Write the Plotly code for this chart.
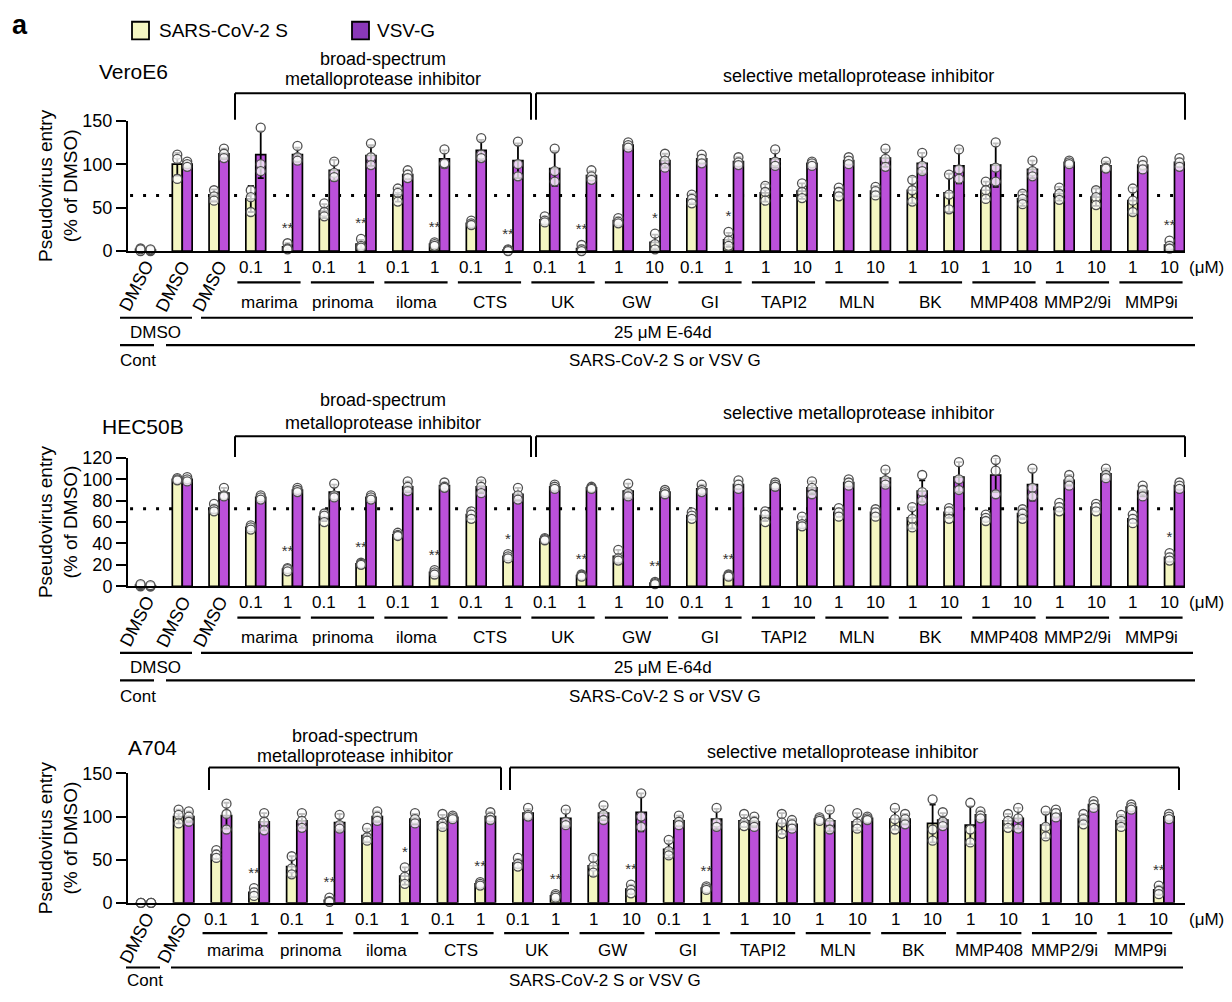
import plotly.graph_objects as go

# ---------------- data ----------------
inhibitors = ['marima', 'prinoma', 'iloma', 'CTS', 'UK', 'GW', 'GI', 'TAPI2', 'MLN', 'BK',
              'MMP408', 'MMP2/9i', 'MMP9i']
conc_low = ['0.1', '0.1', '0.1', '0.1', '0.1', '1', '0.1', '1', '1', '1', '1', '1', '1']
conc_high = ['1', '1', '1', '1', '1', '10', '1', '10', '10', '10', '10', '10', '10']

# ---- VeroE6 (29 groups: DMSO cont, DMSO, DMSO+E-64d, 13 inhibitors x 2) ----
vero_s_mean = [2, 100, 64, 60, 5, 46, 8, 65, 8, 32, 1, 36, 3, 35, 10, 60, 13, 67, 69, 68, 69, 70, 67, 70, 60, 66, 62, 58, 7]
vero_s_sd = [2, 13, 7, 15, 4, 8, 5, 8, 2, 3, 1, 4, 4, 4, 9, 6, 8, 10, 9, 5, 6, 15, 22, 10, 8, 8, 10, 15, 4]
vero_g_mean = [1, 100, 112, 111, 111, 93, 110, 88, 106, 116, 104, 95, 87, 122, 104, 106, 103, 106, 101, 104, 107, 101, 98, 99, 94, 102, 98, 99, 102]
vero_g_sd = [1, 3, 6, 27, 8, 12, 12, 5, 10, 12, 20, 20, 5, 3, 8, 5, 5, 10, 3, 4, 10, 12, 20, 25, 10, 3, 5, 5, 5]
vero_s_pts = [[0, 3, 2], [111, 106, 83], [70, 63, 58], [70, 62, 45], [9, 3, 2], [55, 45, 40], [14, 6, 4],
              [72, 67, 57], [10, 8, 6], [35, 32, 30], [2, 1, 0], [40, 35, 33], [7, 2, 0], [38, 34, 32],
              [20, 8, 2], [65, 60, 55], [22, 12, 6], [75, 68, 58], [78, 68, 61], [73, 68, 63], [74, 69, 64],
              [82, 70, 57], [88, 65, 48], [80, 70, 60], [66, 60, 54], [73, 66, 59], [70, 62, 53], [72, 58, 45],
              [12, 6, 3]]
vero_g_pts = [[0, 1, 2], [103, 100, 97], [118, 112, 107], [142, 100, 92], [121, 108, 104], [103, 90, 85],
              [124, 108, 99], [93, 88, 84], [117, 100, 101], [130, 111, 107], [126, 100, 86], [118, 92, 80],
              [93, 86, 82], [125, 122, 119], [112, 104, 96], [111, 106, 101], [108, 102, 99], [117, 103, 98],
              [103, 101, 98], [108, 104, 100], [118, 106, 97], [113, 98, 92], [117, 94, 83], [125, 96, 80],
              [104, 92, 86], [104, 102, 100], [103, 96, 95], [104, 99, 94], [107, 102, 97]]
vero_stars = ['', '', '', '', '**', '', '**', '', '**', '', '**', '', '**', '', '*', '', '*',
              '', '', '', '', '', '', '', '', '', '', '', '**']

# ---- HEC50B (29 groups) ----
hec_s_mean = [1, 100, 72.5, 55, 16, 65, 21, 48, 13, 67, 28, 44, 10, 28, 3, 66, 10, 66, 60, 69, 69, 64, 69, 64, 68, 74, 74, 63, 27]
hec_s_sd = [1, 1, 4, 2, 2, 4, 1, 2, 2, 4, 2, 1, 1, 6, 1, 3, 1, 5, 5, 4, 4, 10, 5, 3, 5, 4, 4, 4, 4]
hec_g_mean = [0.5, 100, 87, 83, 90, 88, 83, 93, 94, 93, 86, 93, 92, 89, 88, 91, 95, 95, 92, 97, 101, 89, 102, 104, 95, 99, 105, 89, 94]
hec_g_sd = [0.5, 2, 5, 2, 2, 7, 2, 5, 3, 6, 6, 2, 1, 7, 2, 4, 4, 2, 6, 3, 8, 10, 14, 16, 15, 5, 5, 5, 3]
hec_s_pts = [[0, 1, 2], [101, 100, 99], [77, 72, 70], [57, 55, 53], [17, 16, 14], [68, 66, 60], [22, 21, 20],
             [50, 48, 47], [15, 13, 11], [70, 67, 63], [30, 28, 26], [45, 44, 43], [11, 10, 9], [34, 26, 24],
             [4, 3, 2], [69, 66, 63], [11, 10, 9], [70, 67, 60], [65, 58, 56], [73, 69, 65], [72, 69, 65],
             [74, 63, 55], [73, 70, 63], [67, 64, 61], [72, 68, 63], [78, 74, 70], [77, 74, 70], [67, 63, 59],
             [31, 27, 24]]
hec_g_pts = [[0, 0, 1], [102, 100, 98], [92, 85, 84], [85, 83, 81], [92, 90, 88], [96, 85, 83], [85, 83, 81],
             [98, 93, 89], [97, 93, 92], [98, 93, 87], [92, 85, 81], [95, 93, 91], [93, 92, 91], [96, 87, 84],
             [90, 88, 86], [95, 90, 88], [99, 95, 91], [97, 95, 93], [98, 92, 86], [100, 97, 94], [109, 99, 95],
             [104, 88, 80], [116, 100, 90], [118, 108, 86], [110, 92, 84], [104, 99, 94], [110, 104, 101],
             [94, 90, 84], [97, 94, 91]]
hec_stars = ['', '', '', '', '**', '', '**', '', '**', '', '*', '', '**', '', '**', '', '**',
             '', '', '', '', '', '', '', '', '', '', '', '*']

# ---- A704 (28 groups: DMSO cont, DMSO, 13 inhibitors x 2) ----
a704_s_mean = [0, 100, 56, 12, 42, 3, 78, 31, 94, 22, 46, 8, 43, 16, 62, 17, 95, 92, 97, 94, 97, 92, 90, 95, 90, 97, 95, 15]
a704_s_sd = [0, 8, 5, 5, 12, 3, 8, 10, 8, 2, 5, 2, 12, 5, 10, 2, 7, 12, 2, 10, 12, 22, 22, 8, 15, 6, 7, 5]
a704_g_mean = [0, 100, 101, 94, 95, 93, 100, 97, 99, 100, 104, 98, 104, 105, 95, 97, 94, 91, 95, 98, 97, 96, 102, 98, 104, 114, 111, 100]
a704_g_sd = [0, 6, 15, 10, 8, 10, 6, 6, 2, 5, 5, 10, 8, 22, 6, 12, 6, 6, 12, 2, 6, 8, 5, 12, 5, 4, 3, 3]
a704_s_pts = [[0, 0, 0], [108, 102, 92], [61, 56, 52], [17, 12, 8], [54, 40, 33], [6, 2, 1], [87, 76, 72],
              [41, 30, 22], [103, 92, 88], [24, 22, 20], [52, 45, 42], [10, 8, 6], [52, 42, 35], [21, 15, 11],
              [73, 60, 55], [19, 17, 15], [103, 93, 89], [103, 93, 80], [99, 97, 95], [104, 92, 86],
              [110, 97, 85], [120, 85, 72], [116, 85, 70], [103, 95, 87], [107, 88, 77], [103, 97, 91],
              [102, 95, 88], [20, 14, 10]]
a704_g_pts = [[0, 0, 0], [106, 100, 94], [115, 103, 85], [104, 94, 84], [104, 95, 87], [102, 90, 86],
              [106, 100, 95], [104, 97, 92], [101, 99, 97], [105, 99, 96], [110, 102, 100], [108, 94, 90],
              [113, 102, 96], [127, 100, 88], [101, 94, 90], [110, 93, 88], [100, 94, 88], [96, 91, 86],
              [108, 93, 85], [100, 98, 96], [103, 97, 91], [105, 94, 89], [106, 101, 98], [110, 98, 86],
              [108, 104, 99], [118, 114, 110], [114, 111, 108], [103, 100, 97]]
a704_stars = ['', '', '', '**', '', '**', '', '*', '', '**', '', '**', '', '**', '', '**',
              '', '', '', '', '', '', '', '', '', '', '', '**']

# ---------------- style / geometry ----------------
W, H = 1232, 1002
FONT = 'Liberation Sans, Arial, sans-serif'
YEL = '#F4F6C2'
PUR = '#BB50DA'
PUR_LEG = '#8A38B8'
BW = 0.27  # bar width (category units)


def fx(p):
    return p / W


def fy(p):
    return 1 - p / H


panels = [
    dict(name='VeroE6', lead=3, s_mean=vero_s_mean, s_sd=vero_s_sd, g_mean=vero_g_mean, g_sd=vero_g_sd,
         s_pts=vero_s_pts, g_pts=vero_g_pts, stars=vero_stars, ymax=150, dtick=50, dotted=True,
         axis0=246, top=113, g0=145.5, pitch=36.75, title=(97, 63),
         broad=(235, 531), sel=(536, 1185), brk_y=85, brk_bot=112, broad_txt=(50, 70), sel_txt=67,
         rows=dict(conc=17, uline=32, names=52), three_rows=True, sars_c=665),
    dict(name='HEC50B', lead=3, s_mean=hec_s_mean, s_sd=hec_s_sd, g_mean=hec_g_mean, g_sd=hec_g_sd,
         s_pts=hec_s_pts, g_pts=hec_g_pts, stars=hec_stars, ymax=120, dtick=20, dotted=True,
         axis0=588, top=457, g0=145.5, pitch=36.75, title=(100, 425),
         broad=(235, 531), sel=(536, 1185), brk_y=435, brk_bot=456, broad_txt=(398, 421), sel_txt=411,
         rows=dict(conc=17, uline=32, names=52), three_rows=True, sars_c=665),
    dict(name='A704', lead=2, s_mean=a704_s_mean, s_sd=a704_s_sd, g_mean=a704_g_mean, g_sd=a704_g_sd,
         s_pts=a704_s_pts, g_pts=a704_g_pts, stars=a704_stars, ymax=150, dtick=50, dotted=False,
         axis0=911, top=779, g0=146, pitch=37.7, title=(126, 753),
         broad=(209, 501), sel=(510, 1179), brk_y=773, brk_bot=796, broad_txt=(741, 761), sel_txt=757,
         rows=dict(conc=17, uline=31, names=49), three_rows=False, sars_c=605),
]

AX_L, AX_R = 128, 1185

fig = go.Figure()
annotations = []
shapes = []


def ann(text, x, y, size=17, xanchor='center', yanchor='middle', angle=0, bold=False, color='black'):
    annotations.append(dict(text=f'<b>{text}</b>' if bold else text, x=x, y=y, xref='paper', yref='paper',
                            xanchor=xanchor, yanchor=yanchor, showarrow=False, textangle=angle,
                            font=dict(family=FONT, size=size, color=color)))


def hline(x0, x1, y, width=2):
    shapes.append(dict(type='line', xref='paper', yref='paper', x0=fx(x0), x1=fx(x1), y0=fy(y), y1=fy(y),
                       line=dict(color='black', width=width)))


def vline(x, y0, y1, width=2):
    shapes.append(dict(type='line', xref='paper', yref='paper', x0=fx(x), x1=fx(x), y0=fy(y0), y1=fy(y1),
                       line=dict(color='black', width=width)))


for k, P in enumerate(panels, start=1):
    xa = 'x' if k == 1 else f'x{k}'
    ya = 'y' if k == 1 else f'y{k}'
    n = len(P['s_mean'])
    gx = list(range(n))
    unit_per_px = P['ymax'] / (P['axis0'] - P['top'])

    def gpx(g, P=P):
        return P['g0'] + P['pitch'] * g

    # axes
    rmin = (AX_L - P['g0']) / P['pitch']
    rmax = (AX_R - P['g0']) / P['pitch']
    xkey = 'xaxis' if k == 1 else f'xaxis{k}'
    ykey = 'yaxis' if k == 1 else f'yaxis{k}'
    fig.layout[xkey] = dict(domain=[fx(AX_L), fx(AX_R)], range=[rmin, rmax], anchor=ya, showgrid=False,
                            zeroline=False, showline=True, linecolor='black', linewidth=2, ticks='',
                            showticklabels=False, fixedrange=True)
    fig.layout[ykey] = dict(domain=[fy(P['axis0']), fy(P['top'])], range=[0, P['ymax']], anchor=xa,
                            showgrid=False, zeroline=False, showline=True, linecolor='black', linewidth=2,
                            ticks='outside', ticklen=10, tickwidth=2, tickcolor='black', dtick=P['dtick'],
                            tickfont=dict(family=FONT, size=18, color='black'), fixedrange=True)

    # dotted reference line (DMSO + E-64d level), under the bars
    if P['dotted']:
        shapes.append(dict(type='line', xref=xa, yref=ya, x0=-0.42, x1=28.0, y0=P['s_mean'][2],
                           y1=P['s_mean'][2], layer='below',
                           line=dict(color='black', width=3, dash='3px,10px')))

    # bars
    fig.add_trace(go.Bar(x=gx, y=P['s_mean'], width=BW, offset=-BW, xaxis=xa, yaxis=ya,
                         marker=dict(color=YEL, line=dict(color='black', width=1.7)),
                         error_y=dict(type='data', array=P['s_sd'], color='black', thickness=1.8, width=3),
                         name='SARS-CoV-2 S', showlegend=False, cliponaxis=False))
    fig.add_trace(go.Bar(x=gx, y=P['g_mean'], width=BW, offset=0, xaxis=xa, yaxis=ya,
                         marker=dict(color=PUR, line=dict(color='black', width=1.7)),
                         error_y=dict(type='data', array=P['g_sd'], color='black', thickness=1.8, width=3),
                         name='VSV-G', showlegend=False, cliponaxis=False))

    # individual replicate points
    for pts, off in ((P['s_pts'], -BW / 2), (P['g_pts'], BW / 2)):
        xs, ys = [], []
        for g, trip in enumerate(pts):
            for v in trip:
                xs.append(g + off)
                ys.append(v)
        fig.add_trace(go.Scatter(x=xs, y=ys, mode='markers', xaxis=xa, yaxis=ya, showlegend=False,
                                 cliponaxis=False,
                                 marker=dict(size=9, color='rgba(255,255,255,0.75)',
                                             line=dict(color='#505050', width=1.3))))

    # significance stars above SARS-CoV-2 S bars
    sx, sy, st = [], [], []
    for g, s in enumerate(P['stars']):
        if s:
            sx.append(g - BW / 2)
            sy.append(max(max(P['s_pts'][g]), P['s_mean'][g] + P['s_sd'][g]) + 7 * unit_per_px)
            st.append(s)
    fig.add_trace(go.Scatter(x=sx, y=sy, mode='text', text=st, textposition='top center', xaxis=xa,
                             yaxis=ya, showlegend=False, cliponaxis=False,
                             textfont=dict(family=FONT, size=15, color='#333333')))

    # y-axis title
    ann('Pseudovirus entry<br>(% of DMSO)', fx(58), fy((P['axis0'] + P['top']) / 2), size=19, angle=-90)
    # panel title
    ann(P['name'], fx(P['title'][0]), fy(P['title'][1]), size=21, xanchor='left')

    # brackets
    b0, b1 = P['broad']
    s0, s1 = P['sel']
    hline(b0, b1, P['brk_y'])
    vline(b0, P['brk_y'], P['brk_bot'])
    vline(b1, P['brk_y'], P['brk_bot'])
    hline(s0, s1, P['brk_y'])
    vline(s0, P['brk_y'], P['brk_bot'])
    vline(s1, P['brk_y'], P['brk_bot'])
    ann('broad-spectrum', fx((b0 + b1) / 2), fy(P['broad_txt'][0]), size=18)
    ann('metalloprotease inhibitor', fx((b0 + b1) / 2), fy(P['broad_txt'][1]), size=18)
    ann('selective metalloprotease inhibitor', fx((s0 + s1) / 2 - 2), fy(P['sel_txt']), size=18)

    # x labels
    a0 = P['axis0']
    R = P['rows']
    lead = P['lead']
    for g in range(lead):
        ann('DMSO', fx(gpx(g) - 9), fy(a0 + 36), size=18, angle=-63)
    for i, name in enumerate(inhibitors):
        ga = lead + 2 * i
        ann(conc_low[i], fx(gpx(ga) - 5), fy(a0 + R['conc']), size=17)
        ann(conc_high[i], fx(gpx(ga + 1) - 5), fy(a0 + R['conc']), size=17)
        hline(gpx(ga) - 0.5 * P['pitch'], gpx(ga + 1) + 0.22 * P['pitch'], a0 + R['uline'], width=2.2)
        ann(name, fx((gpx(ga) + gpx(ga + 1)) / 2 - 5), fy(a0 + R['names']), size=17)
    ann('(μM)', fx(1206), fy(a0 + R['conc']), size=17)

    if P['three_rows']:
        hline(120, 192, a0 + 68, width=2.2)
        hline(201, 1193, a0 + 68, width=2.2)
        ann('DMSO', fx(156), fy(a0 + 83), size=17)
        ann('25 μM E-64d', fx(663), fy(a0 + 83), size=17)
        hline(120, 154, a0 + 96, width=2.2)
        hline(166, 1195, a0 + 96, width=2.2)
        ann('Cont', fx(138), fy(a0 + 112), size=17)
        ann('SARS-CoV-2 S or VSV G', fx(P['sars_c']), fy(a0 + 112), size=17)
    else:
        hline(126, 160, a0 + 66, width=2.2)
        hline(171, 1183, a0 + 66, width=2.2)
        ann('Cont', fx(145), fy(a0 + 79), size=17)
        ann('SARS-CoV-2 S or VSV G', fx(P['sars_c']), fy(a0 + 79), size=17)

# panel letter and legend
ann('a', fx(10), fy(15), size=27, xanchor='left', bold=True)
shapes.append(dict(type='rect', xref='paper', yref='paper', x0=fx(132), x1=fx(149), y0=fy(30), y1=fy(12),
                   fillcolor=YEL, line=dict(color='black', width=1.8)))
ann('SARS-CoV-2 S', fx(157), fy(21), size=19, xanchor='left')
shapes.append(dict(type='rect', xref='paper', yref='paper', x0=fx(352), x1=fx(369), y0=fy(30), y1=fy(12),
                   fillcolor=PUR_LEG, line=dict(color='black', width=1.8)))
ann('VSV-G', fx(375), fy(21), size=19, xanchor='left')

fig.update_layout(width=W, height=H, margin=dict(l=0, r=0, t=0, b=0), paper_bgcolor='white',
                  plot_bgcolor='white', barmode='overlay', showlegend=False,
                  annotations=annotations, shapes=shapes, font=dict(family=FONT, color='black'))

fig.write_html('out.html')
